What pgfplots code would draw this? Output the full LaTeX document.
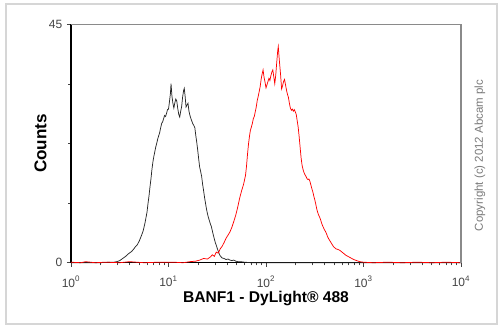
\documentclass[border=0pt]{standalone}
\usepackage{pgfplots}
\pgfplotsset{compat=1.18}
\usepackage{fontspec}
\setmainfont{Liberation Sans}
\definecolor{tickgray}{HTML}{444444}
\definecolor{framegray}{HTML}{D6D6D6}
\definecolor{boxgray}{HTML}{8A8A8A}
\definecolor{copygray}{HTML}{7A7A7A}
\begin{document}
\begin{tikzpicture}
\fill[white] (0,0) rectangle (378pt,245.25pt);
\useasboundingbox (0,0) rectangle (378pt,245.25pt);
\draw[framegray, line width=1pt] (4.5pt,2.25pt) rectangle (372.75pt,242.25pt);
\begin{axis}[
  at={(53.25pt,48.2pt)}, anchor=south west,
  scale only axis, width=292.5pt, height=178.8pt,
  xmin=0, xmax=4, ymin=0, ymax=45,
  axis x line*=bottom, axis y line*=left,
  axis line style={-, black, line width=0.9pt},
  tick align=outside,
  major tick length=3pt, minor tick length=2pt,
  tick style={tickgray, line width=0.5pt},
  xtick={0,1,2,3,4},
  xticklabels={10\textsuperscript{0},10\textsuperscript{1},10\textsuperscript{2},10\textsuperscript{3},10\textsuperscript{4}},
  minor xtick={0.301,0.477,0.602,0.699,0.778,0.845,0.903,0.954,
               1.301,1.477,1.602,1.699,1.778,1.845,1.903,1.954,
               2.301,2.477,2.602,2.699,2.778,2.845,2.903,2.954,
               3.301,3.477,3.602,3.699,3.778,3.845,3.903,3.954},
  ytick={0,45}, yticklabels={0,45},
  minor ytick={11.25,22.5,33.75},
  ticklabel style={font=\fontsize{9pt}{10pt}\selectfont, text=tickgray},
  xticklabel style={inner sep=0.5pt, yshift=-6.5pt},
  xlabel={\textbf{BANF1 - DyLight® 488}},
  ylabel={\textbf{Counts}},
  xlabel style={font=\fontsize{11.7pt}{12pt}\selectfont, inner sep=0.5pt, at={(axis description cs:0.5,-0.15)}, anchor=center},
  ylabel style={font=\fontsize{12.8pt}{13pt}\selectfont, yshift=-5pt},
  clip=false,
]
\addplot[black!85, line width=0.55pt] coordinates {
(0.00,0) (0.30,0) (0.40,0.1) (0.44,0.1) (0.47,0.2) (0.50,0.4) (0.53,0.8) (0.56,1.2)
(0.59,1.7) (0.62,2.1) (0.64,2.5) (0.66,3.0) (0.68,3.4) (0.70,4.1) (0.72,5.0) (0.74,6.0)
(0.76,7.6) (0.78,9.6) (0.79,11.2) (0.80,12.6) (0.81,14.3) (0.82,15.8) (0.83,17.6) (0.84,19.0)
(0.85,20.1) (0.86,21.0) (0.87,21.9) (0.88,22.6) (0.89,23.4) (0.90,24.0) (0.91,24.6) (0.92,25.5)
(0.93,26.3) (0.94,26.6) (0.95,27.2) (0.96,27.8) (0.97,27.6) (0.98,28.2) (0.99,28.9) (1.00,29.0)
(1.01,30.4) (1.02,32.0) (1.026,33.8) (1.035,31.5) (1.045,30.1) (1.055,29.2) (1.065,30.2) (1.075,30.9)
(1.085,30.5) (1.095,29.1) (1.105,28.0) (1.115,27.5) (1.125,28.6) (1.135,29.5) (1.145,31.3) (1.155,32.5)
(1.162,32.9) (1.17,31.5) (1.18,29.4) (1.19,29.8) (1.20,30.1) (1.21,28.6) (1.22,27.8) (1.23,27.2)
(1.24,26.7) (1.25,26.2) (1.26,25.9) (1.27,25.5) (1.28,24.0) (1.29,22.7) (1.30,21.2) (1.31,19.5)
(1.32,18.0) (1.33,17.2) (1.34,16.3) (1.35,14.8) (1.36,13.6) (1.37,12.3) (1.38,11.2) (1.39,10.1)
(1.40,9.2) (1.41,8.5) (1.42,7.9) (1.43,7.3) (1.44,6.8) (1.45,6.0) (1.46,5.2) (1.47,4.5)
(1.48,3.8) (1.49,3.3) (1.50,2.7) (1.51,2.2) (1.52,1.7) (1.53,1.3) (1.55,0.9) (1.57,0.8)
(1.59,0.6) (1.61,0.7) (1.63,0.5) (1.65,0.4) (1.67,0.5) (1.69,0.3) (1.71,0.2) (1.74,0.2)
(1.78,0.1) (1.85,0) (4.00,0)
};
\addplot[red, line width=0.55pt] coordinates {
(0.00,0.1) (0.10,0.0) (0.15,0.2) (0.25,0.0) (0.35,0.1) (0.50,0.0) (0.60,0.2) (0.75,0.0)
(0.90,0.1) (1.05,0.1) (1.15,0.0) (1.22,0.2) (1.28,0.3) (1.32,0.5) (1.36,0.8) (1.40,0.7)
(1.43,1.1) (1.45,1.5) (1.47,1.2) (1.49,2.0) (1.51,1.8) (1.53,2.6) (1.55,3.1) (1.57,3.8)
(1.59,4.6) (1.61,5.2) (1.63,5.8) (1.65,6.7) (1.67,7.8) (1.69,9.0) (1.71,10.5) (1.73,12.2)
(1.75,13.6) (1.77,14.8) (1.79,16.5) (1.80,18.2) (1.81,20.4) (1.82,22.3) (1.83,23.8) (1.84,25.0)
(1.85,25.6) (1.86,26.3) (1.87,27.2) (1.88,27.6) (1.89,28.5) (1.90,29.4) (1.91,30.6) (1.92,31.4)
(1.93,32.3) (1.94,33.2) (1.95,34.6) (1.96,35.6) (1.97,36.4) (1.98,35.0) (1.99,34.1) (2.00,33.0)
(2.01,33.6) (2.02,34.2) (2.03,34.8) (2.04,34.4) (2.05,35.3) (2.06,36.0) (2.07,36.4) (2.08,35.1)
(2.09,33.8) (2.10,35.4) (2.11,37.8) (2.12,40.0) (2.126,40.8) (2.135,38.6) (2.15,35.4) (2.16,32.8)
(2.17,33.4) (2.18,34.2) (2.19,34.6) (2.20,33.6) (2.21,32.6) (2.22,31.8) (2.23,31.2) (2.24,30.1)
(2.25,29.2) (2.26,28.8) (2.27,29.0) (2.28,28.6) (2.29,28.9) (2.30,28.5) (2.31,28.0) (2.32,26.8)
(2.33,25.6) (2.34,23.8) (2.35,21.8) (2.36,19.8) (2.37,18.4) (2.38,17.6) (2.39,17.0) (2.40,16.6)
(2.41,16.3) (2.42,15.9) (2.43,15.7) (2.44,15.8) (2.45,15.4) (2.46,14.7) (2.47,14.0) (2.48,13.4)
(2.49,12.6) (2.50,11.9) (2.51,11.1) (2.52,10.2) (2.53,9.5) (2.54,9.0) (2.55,8.6) (2.56,8.1)
(2.57,7.5) (2.58,7.0) (2.59,6.6) (2.60,6.2) (2.61,5.9) (2.62,5.5) (2.63,5.0) (2.64,4.6)
(2.65,4.3) (2.66,4.0) (2.67,3.7) (2.68,3.4) (2.69,3.1) (2.70,2.9) (2.72,2.6) (2.74,2.5)
(2.76,2.3) (2.78,2.0) (2.80,1.7) (2.82,1.4) (2.84,1.2) (2.86,1.0) (2.88,0.8) (2.90,0.6)
(2.93,0.4) (2.96,0.2) (3.00,0.1) (3.10,0.0) (3.25,0.1) (3.40,0.0) (3.55,0.1) (3.70,0.0)
(3.85,0.1) (4.00,0.0)
};
\end{axis}
\draw[boxgray, line width=0.8pt] (53.25pt,227pt) -- (345.75pt,227pt) -- (345.75pt,48.2pt);
\node[rotate=90, text=copygray, font=\fontsize{8.6pt}{9pt}\selectfont] at (360pt,128.6pt) {Copyright (c) 2012 Abcam plc};
\end{tikzpicture}
\end{document}
